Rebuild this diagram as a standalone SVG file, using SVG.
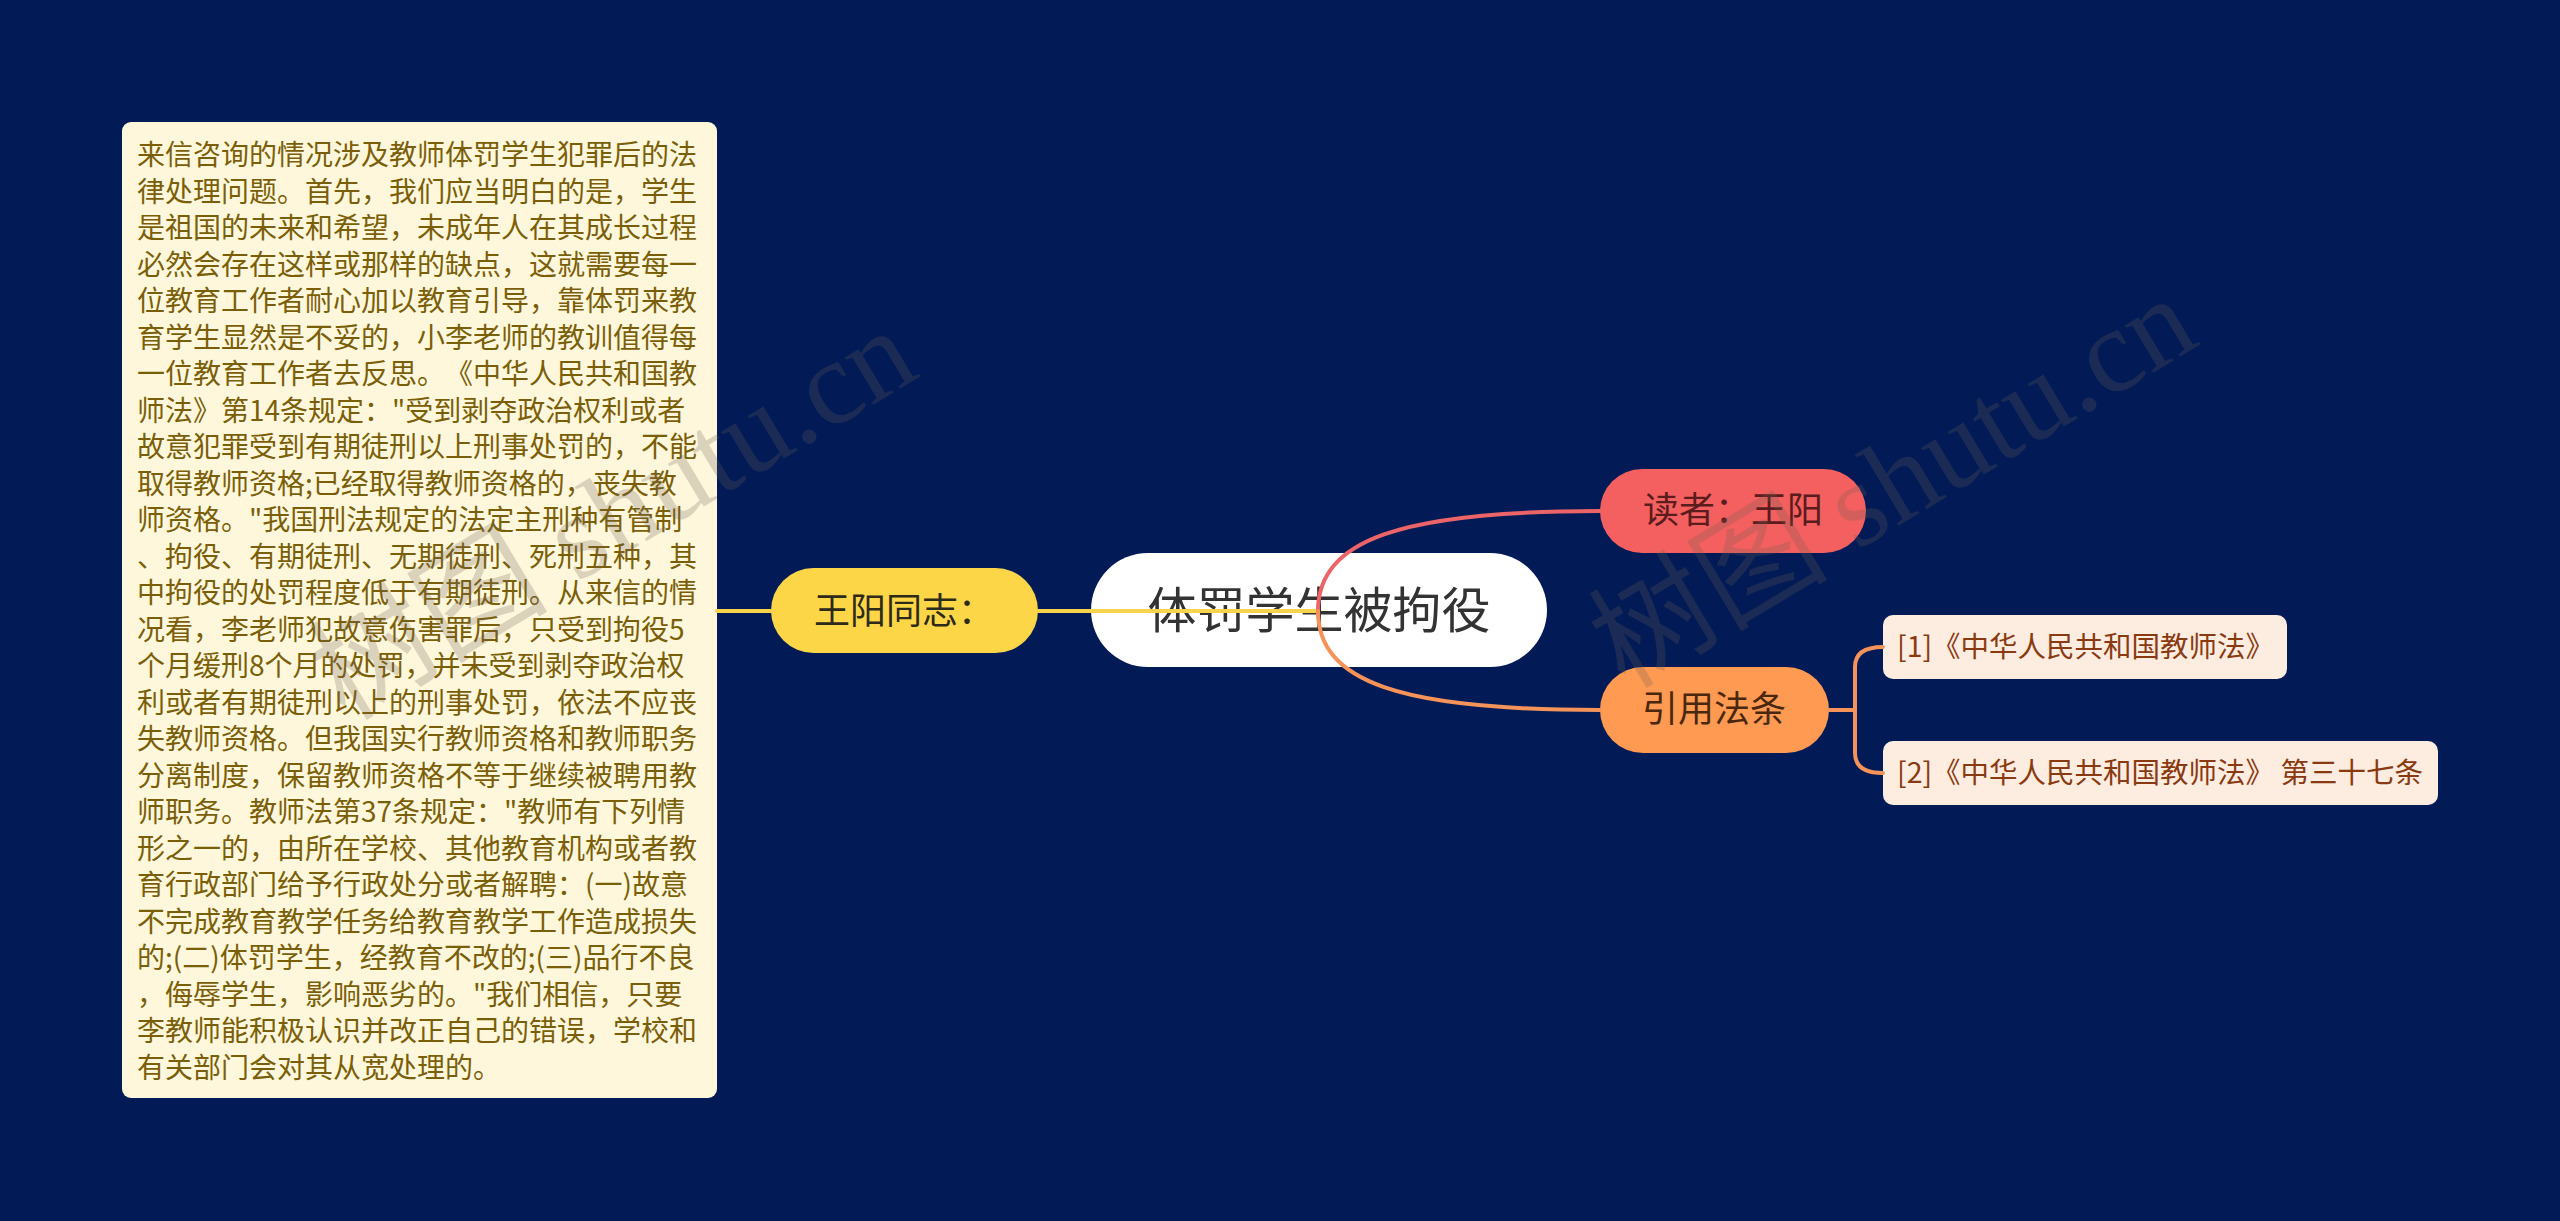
<svg xmlns="http://www.w3.org/2000/svg" width="2560" height="1221" viewBox="0 0 2560 1221">
<defs>
<style>
.bg{fill:#021b56}
.txt{font-family:"Noto Sans CJK SC","Noto Sans",sans-serif;text-spacing-trim:space-all}
.note{fill:#fef7dc}
.notet{font-size:28px;fill:#7b5f08}
.pill-t{font-size:36px;text-anchor:middle}
.sub{fill:#fdece0}
.subt{font-size:28.5px;fill:#8a3a10}
.wm{font-family:"Liberation Serif","Noto Sans CJK SC",serif;font-size:120px;fill:#6e6055;opacity:0.24}
.c{fill:none;stroke-width:4;stroke-linecap:round}
</style>
</defs>
<rect class="bg" x="0" y="0" width="2560" height="1221"/>

<g id="nodes">
<g id="note">
<rect class="note" x="122" y="122" width="595" height="976" rx="9"/>
<text class="txt notet" x="137" y="165">
<tspan x="137" y="165">来信咨询的情况涉及教师体罚学生犯罪后的法</tspan>
<tspan x="137" dy="36.5">律处理问题。首先，我们应当明白的是，学生</tspan>
<tspan x="137" dy="36.5">是祖国的未来和希望，未成年人在其成长过程</tspan>
<tspan x="137" dy="36.5">必然会存在这样或那样的缺点，这就需要每一</tspan>
<tspan x="137" dy="36.5">位教育工作者耐心加以教育引导，靠体罚来教</tspan>
<tspan x="137" dy="36.5">育学生显然是不妥的，小李老师的教训值得每</tspan>
<tspan x="137" dy="36.5">一位教育工作者去反思。《中华人民共和国教</tspan>
<tspan x="137" dy="36.5">师法》第14条规定："受到剥夺政治权利或者</tspan>
<tspan x="137" dy="36.5">故意犯罪受到有期徒刑以上刑事处罚的，不能</tspan>
<tspan x="137" dy="36.5">取得教师资格;已经取得教师资格的，丧失教</tspan>
<tspan x="137" dy="36.5">师资格。"我国刑法规定的法定主刑种有管制</tspan>
<tspan x="137" dy="36.5">、拘役、有期徒刑、无期徒刑、死刑五种，其</tspan>
<tspan x="137" dy="36.5">中拘役的处罚程度低于有期徒刑。从来信的情</tspan>
<tspan x="137" dy="36.5">况看，李老师犯故意伤害罪后，只受到拘役5</tspan>
<tspan x="137" dy="36.5">个月缓刑8个月的处罚，并未受到剥夺政治权</tspan>
<tspan x="137" dy="36.5">利或者有期徒刑以上的刑事处罚，依法不应丧</tspan>
<tspan x="137" dy="36.5">失教师资格。但我国实行教师资格和教师职务</tspan>
<tspan x="137" dy="36.5">分离制度，保留教师资格不等于继续被聘用教</tspan>
<tspan x="137" dy="36.5">师职务。教师法第37条规定："教师有下列情</tspan>
<tspan x="137" dy="36.5">形之一的，由所在学校、其他教育机构或者教</tspan>
<tspan x="137" dy="36.5">育行政部门给予行政处分或者解聘：(一)故意</tspan>
<tspan x="137" dy="36.5">不完成教育教学任务给教育教学工作造成损失</tspan>
<tspan x="137" dy="36.5">的;(二)体罚学生，经教育不改的;(三)品行不良</tspan>
<tspan x="137" dy="36.5">，侮辱学生，影响恶劣的。"我们相信，只要</tspan>
<tspan x="137" dy="36.5">李教师能积极认识并改正自己的错误，学校和</tspan>
<tspan x="137" dy="36.5">有关部门会对其从宽处理的。</tspan>
</text>
</g>
<g id="wangyang">
<rect x="771" y="568" width="267" height="85" rx="42.5" fill="#fdd648"/>
<text class="txt pill-t" x="904" y="624" fill="#2e2a1a">王阳同志：</text>
</g>
<g id="root">
<rect x="1091" y="553" width="456" height="114" rx="57" fill="#ffffff"/>
<text class="txt" x="1319" y="628" font-size="49" text-anchor="middle" fill="#333333">体罚学生被拘役</text>
</g>
<g id="reader">
<rect x="1600" y="469" width="266" height="84" rx="42" fill="#f45f5f"/>
<text class="txt pill-t" x="1733" y="523" fill="#5a1c1c">读者：王阳</text>
</g>
<g id="cite">
<rect x="1600" y="667" width="229" height="86" rx="43" fill="#ff9a52"/>
<text class="txt pill-t" x="1714" y="722" fill="#4a2810">引用法条</text>
</g>
<g id="law1">
<rect class="sub" x="1883" y="615" width="404" height="64" rx="10"/>
<text class="txt subt" x="1897" y="657">[1]《中华人民共和国教师法》</text>
</g>
<g id="law2">
<rect class="sub" x="1883" y="741" width="555" height="64" rx="10"/>
<text class="txt subt" x="1897" y="783">[2]《中华人民共和国教师法》 第三十七条</text>
</g>
</g>

<g id="connectors">
<path class="c" d="M717 611 L771 611" stroke="#f7d44c"/>
<path class="c" d="M1038 611 L1318 611" stroke="#f7d44c"/>
<path class="c" d="M1318 611 C1318 540 1400 511 1600 511" stroke="#ec6468"/>
<path class="c" d="M1318 611 C1318 682 1400 710 1600 710" stroke="#f5935a"/>
<path class="c" d="M1829 710 L1855 710" stroke="#f5935a" stroke-width="3"/>
<path class="c" d="M1855 710 L1855 667 Q1855 647 1883 647" stroke="#f5935a" stroke-width="3"/>
<path class="c" d="M1855 710 L1855 753 Q1855 773 1883 773" stroke="#f5935a" stroke-width="3"/>
</g>

<text class="wm" x="345" y="722" transform="rotate(-31 345 722)">树图 shutu.cn</text>
<text class="wm" x="1625" y="690" transform="rotate(-31 1625 690)">树图 shutu.cn</text>
</svg>
